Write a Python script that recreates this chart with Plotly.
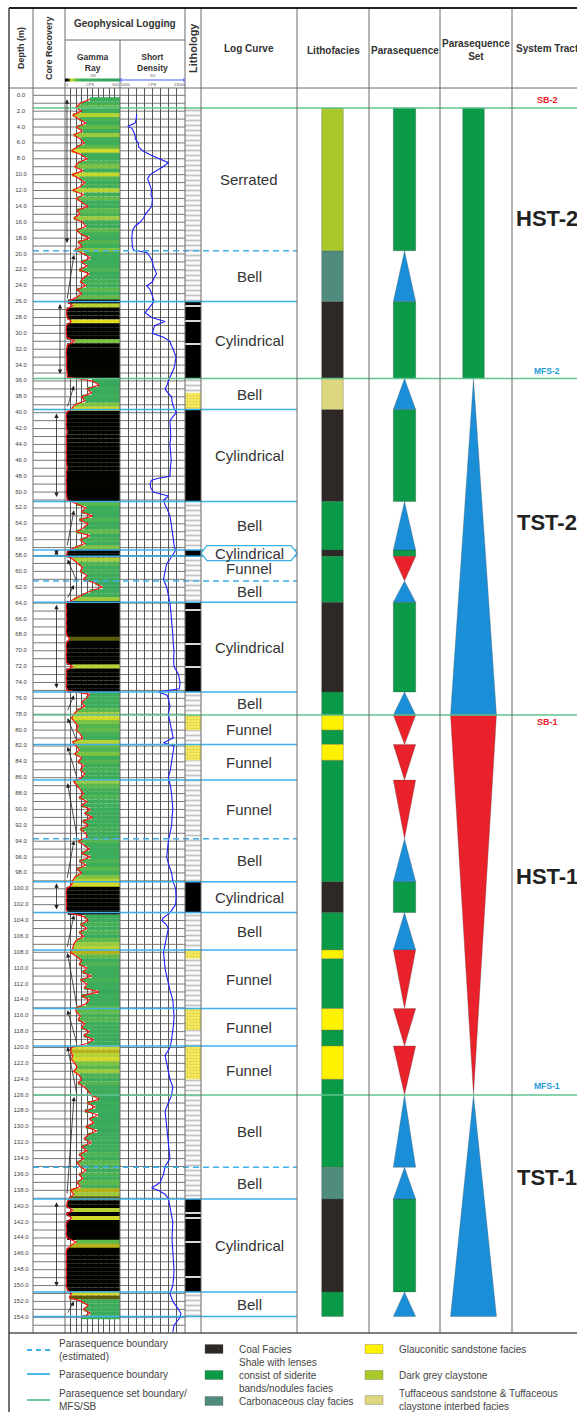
import plotly.graph_objects as go

W, H = 577, 1412
FONT = "Liberation Sans, Arial, Helvetica, sans-serif"

# ======================= DATA =======================
depth_ticks = list(range(0, 155, 2))

# Gamma ray (CPS), one reading every 0.5 m from 0.5 m down to 154.0 m
gr_values = [
    45, 28, 20, 30, 14, 26, 38, 20, 32, 16,
    28, 35, 22, 12, 30, 40, 24, 18, 33, 13,
    26, 36, 28, 14, 34, 20, 30, 42, 22, 27,
    16, 32, 38, 21, 29, 44, 24, 31, 18, 35,
    46, 30, 40, 26, 44, 34, 28, 38, 22, 30,
    20, 5, 14, 3, 3, 4, 11, 3, 2, 3,
    3, 18, 4, 3, 2, 3, 3, 2, 3, 4,
    4, 50, 62, 40, 48, 30, 36, 18, 12, 3,
    2, 3, 2, 3, 4, 2, 3, 2, 3, 2,
    3, 2, 3, 4, 2, 3, 2, 3, 3, 2,
    3, 4, 22, 38, 30, 50, 26, 42, 34, 20,
    45, 28, 36, 18, 4, 3, 15, 24, 32, 28,
    40, 34, 55, 68, 45, 30, 16, 3, 2, 3,
    2, 3, 2, 3, 2, 3, 8, 3, 2, 3,
    2, 3, 3, 14, 2, 3, 2, 3, 2, 4,
    45, 38, 30, 36, 22, 16, 12, 18, 24, 20,
    28, 32, 14, 20, 26, 18, 30, 24, 34, 28,
    36, 30, 16, 22, 28, 34, 26, 40, 30, 46,
    36, 50, 32, 42, 28, 38, 40, 24, 35, 44,
    30, 46, 26, 38, 22, 30, 18, 14, 12, 3,
    2, 3, 2, 3, 2, 5, 35, 42, 28, 40,
    26, 34, 20, 16, 14, 10, 20, 30, 26, 40,
    32, 48, 28, 40, 35, 62, 30, 44, 38, 20,
    20, 28, 24, 36, 30, 44, 34, 52, 40, 12,
    10, 14, 12, 18, 22, 16, 26, 30, 24, 36,
    42, 48, 62, 40, 55, 36, 60, 45, 52, 38,
    58, 42, 35, 48, 30, 40, 26, 34, 22, 28,
    38, 26, 32, 22, 28, 10, 16, 8, 4, 3,
    14, 3, 12, 3, 2, 3, 2, 4, 20, 10,
    3, 2, 3, 2, 3, 2, 3, 2, 3, 2,
    4, 12, 8, 30, 42, 34, 46, 30,
]
gr_depth = [0.5 * (i + 1) for i in range(len(gr_values))]

# Short density (CPS)
den_depth = [
    2.4, 3.0, 3.5, 3.9, 4.2, 4.6, 5.0, 5.5, 6.0, 6.5, 7.0, 7.5, 8.0, 8.5, 9.0, 9.5,
    10.0, 10.5, 11.0, 11.5, 12.0, 12.5, 13.0, 13.5, 14.0, 14.5, 15.0, 15.5, 16.0,
    16.5, 17.0, 17.5, 18.0, 18.5, 19.0, 19.5, 19.8, 20.5, 21.0, 21.5, 22.0, 22.5,
    23.0, 23.5, 24.0, 24.5, 25.0, 25.5, 26.0, 26.5, 27.4, 28.0, 28.5, 29.0, 29.5,
    30.0, 30.5, 31.0, 31.5, 32.0, 32.5, 33.0, 33.5, 34.0, 34.5, 35.0, 35.5, 36.0,
    36.5, 37.0, 37.5, 38.0, 38.5, 39.0, 39.5, 40.0, 40.5, 41.0, 42.0, 43.0, 44.0,
    45.0, 46.0, 47.0, 48.0, 48.3, 48.5, 49.0, 49.5, 50.0, 50.5, 51.0, 51.5, 52.0,
    53.0, 54.0, 55.0, 56.0, 57.0, 57.3, 58.0, 58.5, 59.0, 60.0, 61.0, 62.0, 63.0,
    64.0, 65.0, 66.0, 67.0, 68.0, 69.0, 70.0, 71.0, 72.0, 73.0, 74.0, 74.8, 75.2,
    75.6, 76.0, 77.0, 78.0, 79.0, 80.0, 81.0, 81.6, 82.0, 83.0, 84.0, 85.0, 86.0,
    87.0, 88.0, 89.0, 90.0, 91.0, 92.0, 93.0, 94.0, 95.0, 96.0, 97.0, 98.0, 99.0,
    100.0, 101.0, 102.0, 103.0, 103.7, 104.0, 104.5, 105.0, 106.0, 107.0, 108.0,
    109.0, 110.0, 111.0, 112.0, 113.0, 114.0, 115.0, 116.0, 117.0, 118.0, 119.0,
    120.0, 121.0, 122.0, 123.0, 124.0, 125.0, 126.0, 127.0, 128.0, 129.0, 130.0,
    131.0, 132.0, 133.0, 134.0, 135.0, 136.0, 137.0, 137.7, 138.0, 138.5, 139.0,
    140.0, 141.0, 142.0, 143.0, 144.0, 145.0, 146.0, 147.0, 148.0, 149.0, 150.0,
    151.0, 152.0, 153.0, 153.5, 154.0, 155.0, 155.9,
]
den_values = [
    7050, 7000, 6850, 5950, 6500, 6650, 6850, 6900, 7250, 7300, 7800, 8700, 9900, 10950, 10300, 9500,
    8700, 8400, 8550, 8700, 8900, 8800, 9000, 8950, 8900, 8500, 8100, 7900, 7450,
    6850, 6550, 6500, 6450, 6500, 6500, 6650, 8300, 8800, 9000, 9100, 9300, 9500,
    9200, 9000, 8300, 8700, 8900, 9100, 9200, 8800, 8100, 8900, 10550, 9300, 9100,
    9000, 10350, 11150, 11300, 11550, 11700, 11900, 11800, 11750, 11600, 11350, 11100, 10950,
    10800, 10550, 10900, 11350, 11400, 11500, 11700, 11950, 11500, 11150, 11200, 11250, 11150,
    11200, 11300, 11200, 11150, 9600, 8900, 8700, 8800, 9100, 10950, 10400, 10500, 10750,
    11150, 11300, 11450, 11600, 11700, 11850, 11500, 11150, 10750, 10550, 10350, 10750, 10950,
    11150, 11250, 11350, 11400, 11500, 11550, 11650, 11600, 11650, 12200, 12400, 12300, 9700,
    10800, 10950, 11150, 10950, 11150, 11350, 11550, 10350, 11650, 11500, 11350, 11200, 10950,
    11200, 11350, 11450, 11500, 11400, 11350, 11150, 10950, 10850, 10750, 11000, 11350, 11500,
    11850, 11900, 11850, 11150, 10300, 10150, 10700, 10950, 10750, 10550, 10350,
    10450, 10550, 10750, 10950, 11200, 11500, 11600, 11650, 11600, 11500, 11350,
    11150, 10550, 10750, 10950, 11150, 11500, 11350, 10950, 10550, 10650, 10750,
    10850, 10950, 11050, 11150, 10550, 10350, 9950, 8900, 9700, 10550, 10950,
    11150, 11300, 11500, 11450, 11400, 11450, 11500, 11600, 11650, 11600, 11500,
    11150, 11500, 12200, 12500, 12400, 11650, 11500,
]

# Lithology column
lith_top = [1.6, 26.0, 35.7, 37.5, 39.6, 51.2, 57.3, 58.1, 63.9, 75.2, 78.1, 80.0,
            81.8, 83.8, 99.1, 103.0, 107.7, 108.8, 115.1, 117.8, 119.8, 124.0, 139.1, 150.8]
lith_base = [26.0, 35.7, 37.5, 39.6, 51.2, 57.3, 58.1, 63.9, 75.2, 78.1, 80.0, 81.8,
             83.8, 99.1, 103.0, 107.7, 108.8, 115.1, 117.8, 119.8, 124.0, 139.1, 150.8, 153.9]
lith_type = ['shale', 'coal', 'shale', 'sand', 'coal', 'shale', 'coal', 'shale', 'coal', 'shale',
             'sand', 'shale', 'sand', 'shale', 'coal', 'shale', 'sand', 'shale', 'sand', 'shale',
             'sand', 'shale', 'coal', 'shale']
parting_depth = [26.6, 28.4, 31.3, 64.9, 69.1, 72.1, 140.9, 141.5, 144.5, 148.9]

# Lithofacies column
fac_top = [1.6, 19.6, 26.0, 35.7, 39.6, 51.2, 57.3, 58.1, 63.9, 75.2, 78.1, 80.0, 81.8,
           83.8, 99.1, 103.0, 107.7, 108.8, 115.1, 117.8, 119.8, 124.0, 135.1, 139.1, 150.8]
fac_base = [19.6, 26.0, 35.7, 39.6, 51.2, 57.3, 58.1, 63.9, 75.2, 78.1, 80.0, 81.8, 83.8,
            99.1, 103.0, 107.7, 108.8, 115.1, 117.8, 119.8, 124.0, 135.1, 139.1, 150.8, 153.9]
fac_name = ['dgclay', 'carb', 'coal', 'tuff', 'coal', 'shale', 'coal', 'shale', 'coal', 'shale',
            'glauc', 'shale', 'glauc', 'shale', 'coal', 'shale', 'glauc', 'shale', 'glauc',
            'shale', 'glauc', 'shale', 'carb', 'coal', 'shale']

# Parasequences (A aggradational, R retrogradational/bell, P progradational/funnel)
ps_top = [1.6, 19.6, 26.0, 35.7, 39.6, 51.2, 57.3, 58.1, 61.2, 63.9, 75.2, 78.1, 81.8,
          86.3, 93.7, 99.1, 103.0, 107.7, 115.1, 119.8, 126.0, 135.1, 139.1, 150.8]
ps_base = [19.6, 26.0, 35.7, 39.6, 51.2, 57.3, 58.1, 61.2, 63.9, 75.2, 78.1, 81.8, 86.3,
           93.7, 99.1, 103.0, 107.7, 115.1, 119.8, 126.0, 135.1, 139.1, 150.8, 153.9]
ps_type = ['A', 'R', 'A', 'R', 'A', 'R', 'A', 'P', 'R', 'A', 'R', 'P', 'P',
           'P', 'R', 'A', 'R', 'P', 'P', 'P', 'R', 'R', 'A', 'R']
ps_curve = ['Serrated', 'Bell', 'Cylindrical', 'Bell', 'Cylindrical', 'Bell', 'Cylindrical',
            'Funnel', 'Bell', 'Cylindrical', 'Bell', 'Funnel', 'Funnel', 'Funnel', 'Bell',
            'Cylindrical', 'Bell', 'Funnel', 'Funnel', 'Funnel', 'Bell', 'Bell', 'Cylindrical', 'Bell']

# Parasequence sets
pss_top = [1.6, 35.7, 78.1, 126.0]
pss_base = [35.7, 78.1, 126.0, 153.9]
pss_type = ['A', 'R', 'P', 'R']

# Boundaries (m)
bnd_solid = [26.0, 39.6, 51.2, 57.3, 58.1, 63.9, 75.2, 81.8, 86.3, 99.1, 103.0,
             107.7, 115.1, 119.8, 139.1, 150.8, 153.9]
bnd_dashed = [19.6, 61.2, 93.7, 135.1]
bnd_set = [1.6, 35.7, 78.1, 126.0]

# System tracts
st_text = ['SB-2', 'HST-2', 'MFS-2', 'TST-2', 'SB-1', 'HST-1', 'MFS-1', 'TST-1']
st_depth = [0.6, 15.5, 34.7, 53.8, 79.0, 98.4, 124.8, 136.4]
st_kind = ['SB', 'tract', 'MFS', 'tract', 'SB', 'tract', 'MFS', 'tract']

# Core recovery runs
core_top = [0.5, 20.1, 26.3, 36.6, 40.1, 52.3, 57.3, 58.5, 61.7, 64.2, 75.6, 78.5, 82.1,
            86.7, 93.9, 99.3, 103.3, 108.1, 115.3, 119.9, 126.2, 139.5, 152.0]
core_base = [18.8, 25.8, 35.3, 39.4, 50.8, 56.9, 58.1, 61.3, 63.5, 74.9, 77.7, 81.4, 86.0,
             93.4, 98.8, 102.8, 107.5, 114.9, 119.5, 126.0, 138.6, 150.3, 153.6]
core_kind = ['full', 'up', 'full', 'up', 'full', 'up', 'full', 'down', 'up', 'full',
             'up', 'down', 'down', 'down', 'up', 'full', 'up', 'down', 'down', 'down',
             'up', 'full', 'up']

# ======================= LAYOUT CONSTANTS (pixels) =======================
X_LEFT, X_DEPTH, X_CORE, X_GR, X_DEN, X_LITH = 9, 33, 65, 120, 185, 201
X_CURVE, X_FAC, X_PS, X_PSS = 297, 369, 440, 512
Y_TOP, Y_SUB, Y_HEAD, Y_BOT = 8, 40, 88, 1333
DEPTH_Y0, PX_PER_M = 95.3, 7.935
D_TOP = (Y_HEAD - DEPTH_Y0) / PX_PER_M
D_BOT = (Y_BOT - DEPTH_Y0) / PX_PER_M

LITH_C, LITH_W = (X_DEN + X_LITH) / 2, X_LITH - X_DEN
FAC_C, FAC_W = 332.5, 21.6
PS_C, PS_HW = 404.5, 11.2
PSS_C, PSS_BAR_W, PSS_HW = 473.5, 21.6, 23.0
CURVE_C = (X_LITH + X_CURVE) / 2
ST_C = 547
BOXED_CURVE = {6}

GRID = '#555555'
SEP = '#6a6a6a'
BLUE_LINE = '#3cb0e8'
GREEN_LINE = '#5fc48f'
TXT = '#333333'

FAC_COLORS = {'coal': '#2e2926', 'shale': '#0b9a48', 'carb': '#4f8c7d',
              'glauc': '#fff200', 'dgclay': '#a9c92b', 'tuff': '#dcd67e'}
PS_COLORS = {'A': '#0b9a48', 'R': '#1a8fd8', 'P': '#e8212b'}
GR_SCALE = [[0.0, '#000000'], [0.05, '#060600'], [0.08, '#5e5c08'], [0.11, '#e0dc22'],
            [0.15, '#a9cf38'], [0.2, '#62ba4a'], [0.3, '#3fae5a'], [1.0, '#2f9f62']]


def PX(x):
    return x / W


def PY(y):
    return 1 - y / H


fig = go.Figure()

# ---------- lithology column ----------
LITH_STYLE = {
    'shale': dict(color='#ffffff', pattern=dict(shape='-', fgcolor='#8c8c8c', bgcolor='#fbfbfb',
                                               size=5, solidity=0.35)),
    'sand': dict(color='#f7ec6a', pattern=dict(shape='.', fgcolor='#bfa900', bgcolor='#f7ec6a',
                                              size=3, solidity=0.3)),
    'coal': dict(color='#000000'),
}
for kind, style in LITH_STYLE.items():
    idx = [i for i, t in enumerate(lith_type) if t == kind]
    fig.add_trace(go.Bar(
        x=[LITH_C] * len(idx), y=[lith_base[i] - lith_top[i] for i in idx],
        base=[lith_top[i] for i in idx], width=LITH_W,
        marker=dict(line=dict(width=0), **style), xaxis='x', yaxis='y', hoverinfo='skip'))
fig.add_trace(go.Bar(
    x=[LITH_C] * len(parting_depth), y=[0.15] * len(parting_depth),
    base=[d - 0.075 for d in parting_depth], width=LITH_W,
    marker=dict(color='#d8d8d8', line=dict(width=0)), xaxis='x', yaxis='y', hoverinfo='skip'))

# ---------- lithofacies column ----------
for name, col in FAC_COLORS.items():
    idx = [i for i, f in enumerate(fac_name) if f == name]
    if not idx:
        continue
    fig.add_trace(go.Bar(
        x=[FAC_C] * len(idx), y=[fac_base[i] - fac_top[i] for i in idx],
        base=[fac_top[i] for i in idx], width=FAC_W,
        marker=dict(color=col, line=dict(width=0.6, color='rgba(60,60,60,0.45)')),
        xaxis='x', yaxis='y', hoverinfo='skip'))


# ---------- parasequence & parasequence set ----------
def add_sequence(tops, bases, types, cx, bar_w, hw):
    ia = [i for i, t in enumerate(types) if t == 'A']
    fig.add_trace(go.Bar(
        x=[cx] * len(ia), y=[bases[i] - tops[i] for i in ia], base=[tops[i] for i in ia],
        width=bar_w, marker=dict(color=PS_COLORS['A'], line=dict(width=0.6, color='rgba(60,60,60,0.45)')),
        xaxis='x', yaxis='y', hoverinfo='skip'))
    for kind in ('R', 'P'):
        xs, ys = [], []
        for t, b, k in zip(tops, bases, types):
            if k != kind:
                continue
            if kind == 'R':
                xs += [cx, cx + hw, cx - hw, cx, None]
                ys += [t, b, b, t, None]
            else:
                xs += [cx - hw, cx + hw, cx, cx - hw, None]
                ys += [t, t, b, t, None]
        fig.add_trace(go.Scatter(
            x=xs, y=ys, mode='lines', fill='toself', fillcolor=PS_COLORS[kind],
            line=dict(color='rgba(80,80,80,0.5)', width=0.6), xaxis='x', yaxis='y',
            hoverinfo='skip'))


add_sequence(ps_top, ps_base, ps_type, PS_C, 2 * PS_HW, PS_HW)
add_sequence(pss_top, pss_base, pss_type, PSS_C, PSS_BAR_W, PSS_HW)

# ---------- gamma ray ----------
fig.add_trace(go.Bar(
    orientation='h', y=gr_depth, x=[100 - g for g in gr_values], base=gr_values, width=0.52,
    marker=dict(color=gr_values, colorscale=GR_SCALE, cmin=0, cmax=100, line=dict(width=0),
                showscale=True,
                colorbar=dict(orientation='h', x=PX((X_CORE + X_GR) / 2), xanchor='center',
                              y=PY(80), yanchor='middle', len=(X_GR - X_CORE) / W,
                              lenmode='fraction', thickness=3, thicknessmode='pixels',
                              outlinewidth=0, showticklabels=False, ticks='', xpad=0, ypad=0)),
    xaxis='x2', yaxis='y', hoverinfo='skip'))
fig.add_trace(go.Scatter(x=gr_values, y=gr_depth, mode='lines',
                         line=dict(color='#ff1414', width=1.2), xaxis='x2', yaxis='y',
                         hoverinfo='skip'))

# ---------- density ----------
fig.add_trace(go.Scatter(x=den_values, y=den_depth, mode='lines',
                         line=dict(color='#1f1fff', width=1.1), xaxis='x3', yaxis='y',
                         hoverinfo='skip'))

# ---------- depth labels ----------
fig.add_trace(go.Scatter(x=[21] * len(depth_ticks), y=depth_ticks, mode='text',
                         text=[f"{d:.1f}" for d in depth_ticks],
                         textfont=dict(size=6, color='#444444', family=FONT),
                         xaxis='x', yaxis='y', hoverinfo='skip'))

shapes = []
# horizontal 1 m grid in core/log tracks
for d in range(0, 156):
    shapes.append(dict(type='line', xref='x', yref='y', x0=X_DEPTH, x1=X_DEN, y0=d, y1=d,
                       line=dict(color=GRID, width=0.8), layer='below'))

# boundaries
for d in bnd_solid:
    shapes.append(dict(type='line', xref='x', yref='y', x0=X_DEPTH, x1=X_CURVE, y0=d, y1=d,
                       line=dict(color=BLUE_LINE, width=1.5), layer='above'))
for d in bnd_dashed:
    shapes.append(dict(type='line', xref='x', yref='y', x0=X_DEPTH, x1=X_CURVE, y0=d, y1=d,
                       line=dict(color=BLUE_LINE, width=1.5, dash='6px,4px'), layer='above'))
for d in bnd_set:
    shapes.append(dict(type='line', xref='x', yref='y', x0=X_DEPTH, x1=W, y0=d, y1=d,
                       line=dict(color=GREEN_LINE, width=1.5), layer='above'))

# hexagon label box
for i in BOXED_CURVE:
    mid = (ps_top[i] + ps_base[i]) / 2
    hh = 0.95
    path = (f"M {X_LITH},{mid} L {X_LITH + 6},{mid - hh} L {X_CURVE - 6},{mid - hh} "
            f"L {X_CURVE},{mid} L {X_CURVE - 6},{mid + hh} L {X_LITH + 6},{mid + hh} Z")
    shapes.append(dict(type='path', xref='x', yref='y', path=path, fillcolor='white',
                       line=dict(color=BLUE_LINE, width=1.2), layer='above'))

# column separators and frame
for x in (X_DEPTH, X_CORE, X_DEN, X_LITH, X_CURVE, X_FAC, X_PS, X_PSS):
    shapes.append(dict(type='line', xref='paper', yref='paper', x0=PX(x), x1=PX(x),
                       y0=PY(Y_TOP), y1=PY(Y_BOT), line=dict(color=SEP, width=1), layer='above'))
shapes.append(dict(type='line', xref='paper', yref='paper', x0=PX(X_GR), x1=PX(X_GR),
                   y0=PY(Y_SUB), y1=PY(Y_BOT), line=dict(color=SEP, width=1), layer='above'))
shapes.append(dict(type='line', xref='paper', yref='paper', x0=PX(X_CORE), x1=PX(X_DEN),
                   y0=PY(Y_SUB), y1=PY(Y_SUB), line=dict(color=SEP, width=1), layer='above'))
shapes.append(dict(type='line', xref='paper', yref='paper', x0=PX(X_LEFT), x1=1,
                   y0=PY(Y_HEAD), y1=PY(Y_HEAD), line=dict(color=SEP, width=1), layer='above'))
shapes.append(dict(type='line', xref='paper', yref='paper', x0=PX(X_LEFT), x1=1,
                   y0=PY(Y_BOT), y1=PY(Y_BOT), line=dict(color='#555555', width=1.5), layer='above'))
shapes.append(dict(type='line', xref='paper', yref='paper', x0=PX(X_LEFT), x1=1,
                   y0=PY(Y_TOP), y1=PY(Y_TOP), line=dict(color='#222222', width=2), layer='above'))
shapes.append(dict(type='line', xref='paper', yref='paper', x0=PX(X_LEFT), x1=PX(X_LEFT),
                   y0=PY(Y_TOP), y1=0, line=dict(color='#444444', width=1.5), layer='above'))
# density scale bar in header
shapes.append(dict(type='line', xref='paper', yref='paper', x0=PX(X_GR + 1), x1=PX(X_DEN - 1),
                   y0=PY(80), y1=PY(80), line=dict(color='#4a5cff', width=1.2), layer='above'))
for x in (X_GR + 1, X_DEN - 1):
    shapes.append(dict(type='line', xref='paper', yref='paper', x0=PX(x), x1=PX(x),
                       y0=PY(78), y1=PY(82), line=dict(color='#4a5cff', width=1), layer='above'))

annotations = []


def ann(x, y, text, size, color=TXT, bold=False, angle=0, xanchor='center', align='center'):
    annotations.append(dict(
        x=PX(x), y=PY(y), xref='paper', yref='paper', text=f"<b>{text}</b>" if bold else text,
        showarrow=False, textangle=angle, xanchor=xanchor, yanchor='middle', align=align,
        font=dict(size=size, color=color, family=FONT)))


# header
ann(21, 48, 'Depth (m)', 9, bold=True, angle=-90)
ann(49, 48, 'Core Recovery', 9, bold=True, angle=-90)
ann(125, 24, 'Geophysical Logging', 10, bold=True)
ann(92.5, 62, 'Gamma<br>Ray', 8.5, bold=True)
ann(152.5, 62, 'Short<br>Density', 8.5, bold=True)
ann(92.5, 75.5, 'GR', 4, color='#666666')
ann(152.5, 75.5, 'SD', 4, color='#666666')
for x, t in ((67.5, '0'), (90, 'CPS'), (115, '100'), (125.5, '5000'), (152.5, 'CPS'), (179.5, '13000')):
    ann(x, 84.5, t, 4, color='#555555')
ann(193, 48, 'Lithology', 11, bold=True, angle=-90)
ann(249, 49, 'Log Curve', 10, bold=True)
ann(333, 50, 'Lithofacies', 10, bold=True)
ann(404.5, 50, 'Parasequence', 10, bold=True)
ann(476, 50, 'Parasequence<br>Set', 10, bold=True)
ann(547, 49, 'System Tract', 10, bold=True)

# log-curve labels
for t, b, lab in zip(ps_top, ps_base, ps_curve):
    annotations.append(dict(x=CURVE_C, y=(t + b) / 2, xref='x', yref='y', text=lab,
                            showarrow=False, font=dict(size=15, color=TXT, family=FONT)))

# system tract labels
ST_STYLE = {'SB': (9, '#e8202a'), 'MFS': (8.5, '#1e9bd7'), 'tract': (22, '#222222')}
for txt, d, k in zip(st_text, st_depth, st_kind):
    size, col = ST_STYLE[k]
    annotations.append(dict(x=ST_C, y=d, xref='x', yref='y', text=f"<b>{txt}</b>",
                            showarrow=False, font=dict(size=size, color=col, family=FONT)))

# core recovery arrows
FULL_X = {0: 67, 2: 60}
for i, (t, b, k) in enumerate(zip(core_top, core_base, core_kind)):
    if k == 'full':
        xf = FULL_X.get(i, 56.5)
        x0, y0, x1, y1, side = xf, b, xf, t, 'end+start'
    elif k == 'up':
        x0, y0, x1, y1, side = 67, b, 74, t, 'end'
    else:
        x0, y0, x1, y1, side = 77, b, 67.5, t, 'end'
    annotations.append(dict(x=x1, y=y1, ax=x0, ay=y0, xref='x', yref='y', axref='x', ayref='y',
                            text='', showarrow=True, arrowhead=2, arrowsize=1.1, arrowwidth=0.8,
                            arrowcolor='#222222', arrowside=side, standoff=0, startstandoff=0))

# ---------- legend ----------
LEG_TXT = '#444444'
for y, dash, col in ((1350, '5px,4px', BLUE_LINE), (1374, 'solid', BLUE_LINE), (1400, 'solid', GREEN_LINE)):
    shapes.append(dict(type='line', xref='paper', yref='paper', x0=PX(27), x1=PX(50),
                       y0=PY(y), y1=PY(y), line=dict(color=col, width=1.8, dash=dash)))
ann(57, 1349.5, 'Parasequence boundary<br>(estimated)', 10, color=LEG_TXT, xanchor='left', align='left')
ann(57, 1374, 'Parasequence boundary', 10, color=LEG_TXT, xanchor='left', align='left')
ann(57, 1399.5, 'Parasequence set boundary/<br>MFS/SB', 10, color=LEG_TXT, xanchor='left', align='left')

LEG_SW = [
    (205, 1349, 'coal', 'Coal Facies'),
    (205, 1375, 'shale', 'Shale with lenses<br>consist of siderite<br>bands/nodules facies'),
    (205, 1401, 'carb', 'Carbonaceous clay facies'),
    (365, 1349, 'glauc', 'Glauconitic sandstone facies'),
    (365, 1375, 'dgclay', 'Dark grey claystone'),
    (365, 1400, 'tuff', 'Tuffaceous sandstone & Tuffaceous<br>claystone interbed facies'),
]
for x, y, key, label in LEG_SW:
    shapes.append(dict(type='rect', xref='paper', yref='paper', x0=PX(x), x1=PX(x + 18),
                       y0=PY(y + 4.5), y1=PY(y - 4.5), fillcolor=FAC_COLORS[key],
                       line=dict(color='rgba(80,80,80,0.5)', width=0.6)))
    ann(x + 32, y, label, 10, color=LEG_TXT, xanchor='left', align='left')

fig.update_layout(
    width=W, height=H, margin=dict(l=0, r=0, t=0, b=0, autoexpand=False),
    paper_bgcolor='white', plot_bgcolor='rgba(0,0,0,0)', showlegend=False,
    barmode='overlay', shapes=shapes, annotations=annotations,
    xaxis=dict(domain=[0, 1], range=[0, W], visible=False, anchor='y'),
    xaxis2=dict(domain=[PX(X_CORE), PX(X_GR)], range=[0, 100], anchor='y', showgrid=True,
                gridcolor=GRID, gridwidth=0.8, dtick=10, tick0=0, zeroline=False,
                showticklabels=False, ticks='', showline=False),
    xaxis3=dict(domain=[PX(X_GR), PX(X_DEN)], range=[5000, 13000], anchor='y', showgrid=True,
                gridcolor=GRID, gridwidth=0.8, dtick=1000, tick0=5000, zeroline=False,
                showticklabels=False, ticks='', showline=False),
    yaxis=dict(domain=[PY(Y_BOT), PY(Y_HEAD)], range=[D_BOT, D_TOP], visible=False, anchor='x'),
    font=dict(family=FONT),
)

fig.write_html("out.html")
